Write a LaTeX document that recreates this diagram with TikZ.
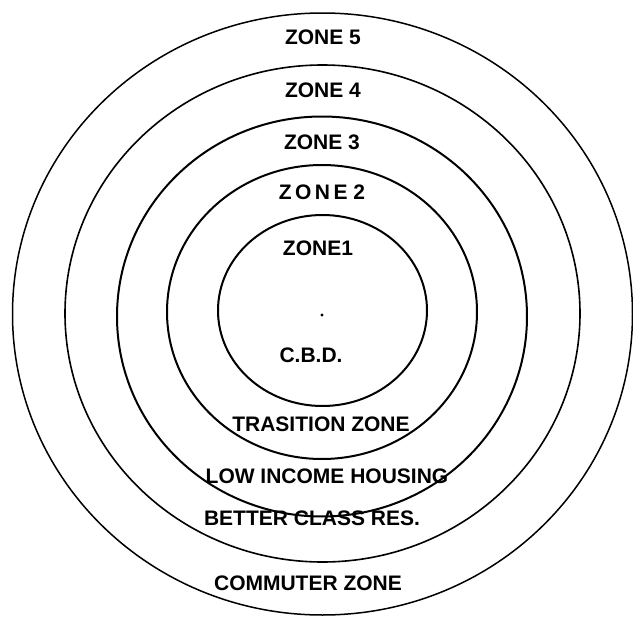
\documentclass[tikz,border=0pt]{standalone}
\usepackage{fontspec}
\setmainfont{Liberation Sans}
\begin{document}
\begin{tikzpicture}[x=1pt,y=-1pt,
  ring/.style={line width=2pt},
  zonetext/.style={font=\fontsize{21}{25}\selectfont\bfseries,inner sep=0pt}]
\useasboundingbox (0,0) rectangle (633,621);
% rings, inside out
\draw[ring] (322.5,310.5) ellipse [x radius=104.5,y radius=95.5];
\draw[ring] (322,312) ellipse [x radius=155,y radius=147];
\draw[ring] (322,316.5) ellipse [x radius=205,y radius=200];
\draw[ring,line width=1.6pt] (322.5,313.5) ellipse [x radius=257.5,y radius=248.5];
\draw[ring,line width=1.5pt] (322.5,314) ellipse [x radius=310,y radius=301];
\fill (322,315) circle [radius=1.6];
% zone numbers
\node[zonetext] (zfive) at (323,37) {ZONE 5};
\node[zonetext] (zfour) at (323,90) {ZONE 4};
\node[zonetext] (zthree) at (322,142) {ZONE 3};
\node[zonetext] (ztwo) at (322,192) {Z\,O\,N\,E 2};
\node[zonetext] (zone) at (318,248) {ZONE1};
% zone names
\node[zonetext] (cbd) at (311,355) {C.B.D.};
\node[zonetext] (trans) at (321,424) {TRASITION ZONE};
\node[zonetext] (lowinc) at (327,476) {LOW INCOME HOUSING};
\node[zonetext] (better) at (312,518) {BETTER CLASS RES.};
\node[zonetext] (commuter) at (308,583) {COMMUTER ZONE};
\end{tikzpicture}
\end{document}
